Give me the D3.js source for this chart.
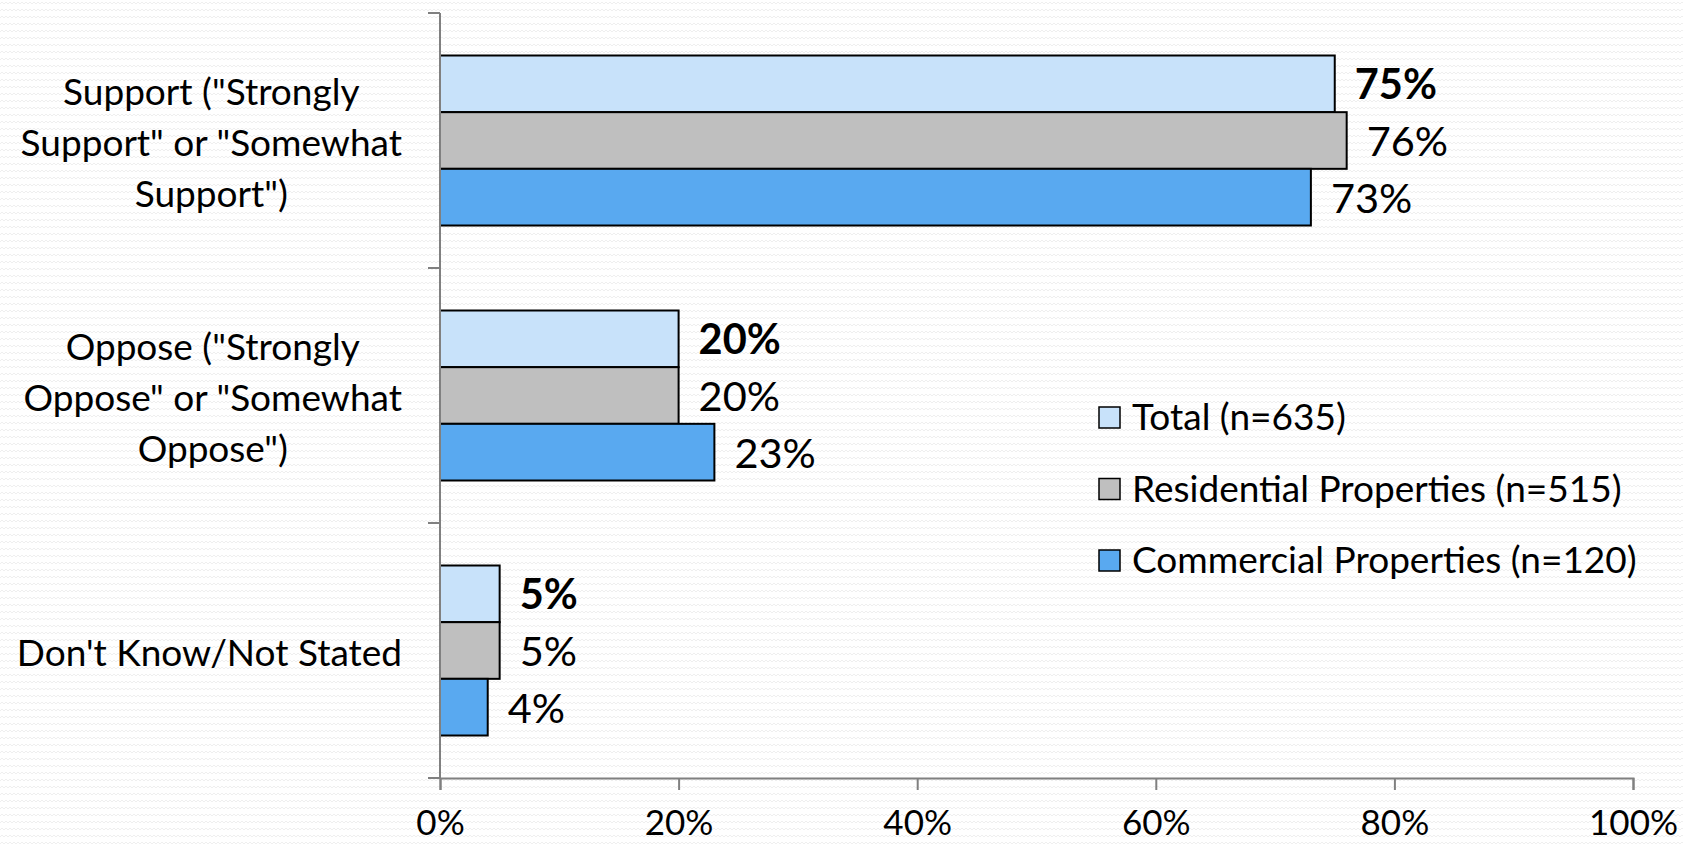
<!DOCTYPE html>
<html>
<head>
<meta charset="utf-8">
<script src="https://cdn.jsdelivr.net/npm/d3@7"></script>
<style>
  html, body { margin: 0; padding: 0; background: #fff; }
  svg { display: block; font-family: Lato, "Open Sans", sans-serif; }
</style>
</head>
<body>
<div id="chart"></div>
<script>
// categories, series and values
var categories = [
  ['Support ("Strongly', 'Support" or "Somewhat', 'Support")'],
  ['Oppose ("Strongly', 'Oppose" or "Somewhat', 'Oppose")'],
  ["Don't Know/Not Stated"]
];
var seriesNames = ["Total (n=635)", "Residential Properties (n=515)", "Commercial Properties (n=120)"];
var seriesColors = ["#c8e2fa", "#bfbfbf", "#59a9f0"];
var totalVals = [75, 20, 5];
var residentialVals = [76, 20, 5];
var commercialVals = [73, 23, 4];
var xTicks = [0, 20, 40, 60, 80, 100];

var width = 1683, height = 844;
var margin = {left: 440, right: 50, top: 13, bottom: 66};

var svg = d3.select("#chart").append("svg")
  .attr("width", width)
  .attr("height", height);

// faint wavy background texture
var defs = svg.append("defs");
var pat = defs.append("pattern")
  .attr("id", "wave")
  .attr("width", 8).attr("height", 7)
  .attr("patternUnits", "userSpaceOnUse");
pat.append("path")
  .attr("d", "M0,4 L2,2 L4,4 L6,2 L8,4")
  .attr("fill", "none")
  .attr("stroke", "#efefef")
  .attr("stroke-width", 1);
svg.append("rect").attr("width", width).attr("height", height).attr("fill", "#fff");
svg.append("rect").attr("width", width).attr("height", height).attr("fill", "url(#wave)");

var x = d3.scaleLinear()
  .domain([0, 100])
  .range([margin.left, width - margin.right]);

var y0 = d3.scaleBand()
  .domain(d3.range(categories.length))
  .range([margin.top, height - margin.bottom]);

var y1 = d3.scaleBand()
  .domain(d3.range(seriesNames.length))
  .range([0, y0.bandwidth()])
  .paddingInner(0)
  .paddingOuter(0.75);

var seriesVals = [totalVals, residentialVals, commercialVals];

// bars
var groups = svg.append("g").selectAll("g")
  .data(categories)
  .enter().append("g")
  .attr("transform", function (d, i) { return "translate(0," + y0(i) + ")"; });

groups.each(function (d, ci) {
  var g = d3.select(this);
  seriesVals.forEach(function (vals, si) {
    g.append("rect")
      .attr("x", x(0))
      .attr("y", y1(si))
      .attr("width", x(vals[ci]) - x(0))
      .attr("height", y1.bandwidth())
      .attr("fill", seriesColors[si])
      .attr("stroke", "#000")
      .attr("stroke-width", 2);
    g.append("text")
      .attr("x", x(vals[ci]) + 20)
      .attr("y", y1(si) + y1.bandwidth() / 2 + 1)
      .attr("dy", "0.35em")
      .attr("font-size", 41.5)
      .attr("font-weight", si === 0 ? "bold" : "normal")
      .attr("fill", "#000")
      .text(vals[ci] + "%");
  });
});

// y axis (line + tick marks at band edges)
var axisColor = "#808080";
svg.append("line")
  .attr("x1", x(0)).attr("x2", x(0))
  .attr("y1", margin.top).attr("y2", height - margin.bottom)
  .attr("stroke", axisColor).attr("stroke-width", 2);
var yEdges = d3.range(categories.length + 1).map(function (i) {
  return i < categories.length ? y0(i) : y0(i - 1) + y0.bandwidth();
});
svg.append("g").selectAll("line")
  .data(yEdges)
  .enter().append("line")
  .attr("x1", x(0) - 12).attr("x2", x(0))
  .attr("y1", function (d) { return d; })
  .attr("y2", function (d) { return d; })
  .attr("stroke", axisColor).attr("stroke-width", 2);

// x axis
var xAxis = svg.append("g")
  .attr("transform", "translate(0," + (height - margin.bottom) + ")")
  .call(d3.axisBottom(x)
    .tickValues(xTicks)
    .tickSize(12)
    .tickPadding(20)
    .tickFormat(function (d) { return d + "%"; }));
xAxis.select(".domain").attr("stroke", axisColor).attr("stroke-width", 2);
xAxis.selectAll(".tick line").attr("stroke", axisColor).attr("stroke-width", 2);
xAxis.selectAll(".tick text")
  .attr("font-size", 35)
  .attr("font-family", "Lato, sans-serif")
  .attr("fill", "#000");

// category labels, lines centred within a right-aligned block
var labelRight = x(0) - 38;
var lineH = 51;
categories.forEach(function (lines, ci) {
  var cy = y0(ci) + y0.bandwidth() / 2 + 3;
  var t = svg.append("text")
    .attr("font-size", 37)
    .attr("fill", "#000")
    .attr("text-anchor", "middle");
  lines.forEach(function (ln, li) {
    t.append("tspan")
      .attr("y", cy + (li - (lines.length - 1) / 2) * lineH)
      .attr("dy", "0.35em")
      .text(ln);
  });
  var maxW = 0;
  t.selectAll("tspan").each(function () {
    maxW = Math.max(maxW, this.getComputedTextLength());
  });
  t.selectAll("tspan").attr("x", labelRight - maxW / 2);
});

// legend
var legend = svg.append("g").attr("transform", "translate(1099,417.5)");
var legItems = legend.selectAll("g")
  .data(seriesNames)
  .enter().append("g")
  .attr("transform", function (d, i) { return "translate(0," + (i * 71.5) + ")"; });
legItems.append("rect")
  .attr("x", 0).attr("y", -10.5)
  .attr("width", 21).attr("height", 21)
  .attr("fill", function (d, i) { return seriesColors[i]; })
  .attr("stroke", "#000")
  .attr("stroke-width", 1.5);
legItems.append("text")
  .attr("x", 33)
  .attr("dy", "0.35em")
  .attr("font-size", 37)
  .attr("fill", "#000")
  .text(function (d) { return d; });
</script>
</body>
</html>
